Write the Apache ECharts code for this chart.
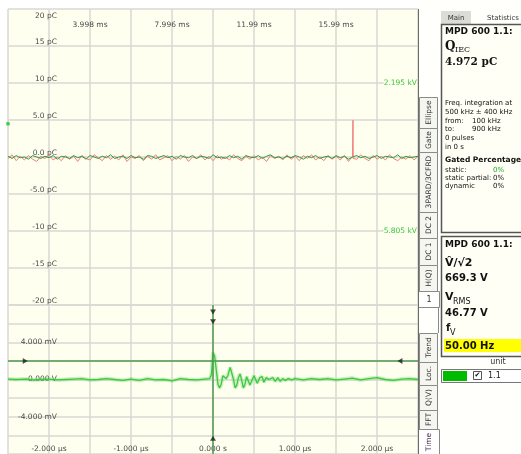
<!DOCTYPE html>
<html><head><meta charset="utf-8">
<script src="https://cdn.jsdelivr.net/npm/echarts@6/dist/echarts.min.js"></script>
<style>html,body{margin:0;padding:0;background:#fff;}#c{width:521px;height:454px;}</style>
</head><body><div id="c"></div>
<script>
// ---------- Upper scope: charge (pC) over 20 ms ----------
const qTimeMs = [0,0.2,0.4,0.6,0.8,1,1.2,1.4,1.6,1.8,
  2,2.2,2.4,2.6,2.8,3,3.2,3.4,3.6,3.8,
  4,4.2,4.4,4.6,4.8,5,5.2,5.4,5.6,5.8,
  6,6.2,6.4,6.6,6.8,7,7.2,7.4,7.6,7.8,
  8,8.2,8.4,8.6,8.8,9,9.2,9.4,9.6,9.8,
  10,10.2,10.4,10.6,10.8,11,11.2,11.4,11.6,11.8,
  12,12.2,12.4,12.6,12.8,13,13.2,13.4,13.6,13.8,
  14,14.2,14.4,14.6,14.8,15,15.2,15.4,15.6,15.8,
  16,16.2,16.4,16.6,16.8,17,17.2,17.4,17.6,17.8,
  18,18.2,18.4,18.6,18.8,19,19.2,19.4,19.6,19.8,
  19.99];
const qRed = [-0.2,0.3,-0.5,0.1,-0.4,0.2,-0.3,-0.6,0.1,-0.2,
  0.3,-0.4,0.0,-0.5,0.2,-0.3,0.1,-0.6,0.2,-0.2,
  -0.4,0.3,-0.1,-0.5,0.2,-0.3,0.1,-0.4,0.3,-0.6,
  0.0,-0.2,0.2,-0.5,0.1,-0.3,0.3,-0.4,-0.1,0.2,
  -0.5,0.1,-0.3,0.2,-0.6,0.0,-0.2,0.3,-0.4,0.1,
  -0.5,0.2,-0.3,0.0,-0.4,0.3,-0.2,-0.5,0.1,-0.3,
  0.2,-0.4,0.0,-0.6,0.2,-0.2,0.1,-0.4,0.3,-0.3,
  0.1,-0.5,0.2,-0.2,0.3,-0.4,0.0,-0.5,0.2,-0.3,
  0.1,-0.4,0.2,-0.6,0.1,-0.3,0.3,-0.2,-0.5,0.2,
  -0.3,0.1,-0.4,0.3,-0.2,-0.5,0.0,-0.3,0.2,-0.4,
  0.1];
const qGreen = [0.1,-0.2,0.2,-0.1,0.0,-0.3,0.2,0.0,-0.2,0.1,
  -0.1,0.2,-0.3,0.1,0.0,-0.2,0.2,-0.1,0.1,-0.3,
  0.2,0.0,-0.2,0.1,-0.1,0.3,-0.2,0.0,0.1,-0.2,
  0.2,-0.1,0.0,-0.3,0.2,0.1,-0.2,0.0,0.2,-0.1,
  0.1,-0.3,0.2,0.0,-0.1,0.2,-0.2,0.1,0.0,-0.2,
  0.3,-0.1,0.0,-0.2,0.2,-0.1,0.1,-0.3,0.2,0.0,
  -0.1,0.2,-0.2,0.1,0.3,-0.1,0.0,-0.2,0.1,-0.1,
  0.2,0.0,-0.3,0.1,-0.1,0.2,-0.2,0.0,0.1,-0.2,
  0.2,-0.1,0.1,-0.3,0.0,0.2,-0.1,0.1,-0.2,0.0,
  0.2,-0.2,0.1,0.0,-0.1,0.3,-0.2,0.1,-0.1,0.0,
  0.1];
const qPulseTimeMs = [16.81, 16.82, 16.83];
const qPulseValue = [-0.1, 4.972, -0.2];
const qLevelMarker = [[0, 4.5]];
const qXTickValues = [3.998, 7.996, 11.994, 15.992];
const qXTickLabels = ['3.998 ms', '7.996 ms', '11.99 ms', '15.99 ms'];
const qYTickValues = [15, 10, 5, 0, -5, -10, -15, -20];
const qYTickLabels = ['15 pC', '10 pC', '5.0 pC', '0.0 pC', '-5.0 pC', '-10 pC', '-15 pC', '-20 pC'];
const qYTopValue = [20];
const qYTopLabel = ['20 pC'];
const kvTickValues = [2.195, -5.805];
const kvTickLabels = ['2.195 kV', '-5.805 kV'];

// ---------- Lower scope: voltage (mV) over ±2.5 µs ----------
const uTimeUs = [-2.5,-2.4,-2.3,-2.2,-2.1,-2.0,-1.9,-1.8,-1.7,-1.6,-1.5,-1.4,-1.3,-1.2,-1.1,-1.0,-0.9,-0.8,-0.7,-0.6,-0.5,-0.4,-0.3,-0.2,-0.1,-0.04,
  -0.02,-0.01,0.0,0.02,0.04,0.06,0.08,0.10,0.12,0.14,0.16,0.18,0.21,0.23,0.25,0.27,0.29,0.31,0.33,0.35,0.37,0.39,0.41,0.43,0.45,0.47,0.50,0.52,0.54,0.57,0.60,0.62,0.65,0.68,0.70,0.73,0.76,0.79,0.82,0.85,0.88,0.92,0.96,
  1.0,1.1,1.2,1.3,1.4,1.5,1.6,1.7,1.8,1.9,2.0,2.1,2.2,2.3,2.4,2.5];
const uSignalMv = [0.05,0.0,0.05,-0.05,0.0,0.05,-0.05,0.0,0.05,0.1,-0.05,0.0,0.1,0.0,-0.1,0.05,-0.1,0.1,-0.05,0.0,-0.15,0.1,0.0,-0.05,0.05,0.1,
  0.5,1.6,2.9,2.5,1.0,-0.5,-0.9,-0.5,0.4,0.6,0.1,0.4,1.3,1.1,0.0,-0.9,-0.6,0.2,0.6,-0.1,-0.9,-0.5,0.3,0.5,-0.6,-0.4,0.4,0.3,-0.4,0.2,0.3,-0.3,0.2,0.0,-0.2,0.2,-0.2,0.2,-0.2,0.1,-0.1,0.1,-0.05,
  0.1,-0.05,0.1,0.0,0.1,-0.05,0.05,0.15,-0.05,0.1,0.2,0.0,-0.1,0.05,0.1,0.0];
const uTriggerTimeUs = 0;
const uTriggerLevelMv = 2;
const uCursorMarkers = [[0, 7.25, 180], [0, 6.2, 180], [0, -6.3, 0], [-2.29, 2, -90], [2.28, 2, 90]];
const uXTickValues = [-2, -1, 0, 1, 2];
const uXTickLabels = ['-2.000 µs', '-1.000 µs', '0.000 s', '1.000 µs', '2.000 µs'];
const uYTickValues = [4, 0, -4];
const uYTickLabels = ['4.000 mV', '-0.000 V', '-4.000 mV'];

// ---------- build ----------
function lookup(vals, labels) {
  return function (v) {
    let best = 0;
    for (let i = 1; i < vals.length; i++) if (Math.abs(vals[i] - v) < Math.abs(vals[best] - v)) best = i;
    return labels[best];
  };
}
const qRedPairs = qTimeMs.map((t, i) => [t, qRed[i]])
  .concat(qPulseTimeMs.map((t, i) => [t, qPulseValue[i]]))
  .sort((a, b) => a[0] - b[0]);
const qGreenPairs = qTimeMs.map((t, i) => [t, qGreen[i]]);
const uPairs = uTimeUs.map((t, i) => [t, uSignalMv[i]]);

const FONT = 'DejaVu Sans';
const labelBase = { color: '#4a4a4a', fontSize: 7.5, fontFamily: FONT };
const grid = { lineStyle: { color: '#d8d8d4', width: 1.5 } };

const G = [];
function txt(text, x, y, size, opts) {
  opts = opts || {};
  G.push({ type: 'text', x: x, y: y, rotation: opts.rot || 0, z: 120, style: {
    text: text, fill: opts.fill || '#111',
    font: (opts.bold ? 'bold ' : '') + size + 'px ' + (opts.family || FONT),
    textAlign: opts.align || 'left', textVerticalAlign: 'middle' } });
}
function rect(x, y, w, h, fill, stroke, lw) {
  G.push({ type: 'rect', z: 110, shape: { x: x, y: y, width: w, height: h },
    style: { fill: fill, stroke: stroke || null, lineWidth: lw || 1 } });
}
function line(x1, y1, x2, y2, stroke, lw) {
  G.push({ type: 'line', z: 115, shape: { x1: x1, y1: y1, x2: x2, y2: y2 },
    style: { stroke: stroke, lineWidth: lw || 1 } });
}
// right side background
rect(419, 0, 102, 454, '#fffffb');
// tab column
const upperTabs = [['Ellipse', 97, 128], ['Gate', 128, 152], ['3PARD/3CFRD', 152, 212], ['DC 2', 212, 238], ['DC 1', 238, 265], ['H(Q)', 265, 291]];
upperTabs.forEach(t => { rect(419.5, t[1] + 0.5, 18, t[2] - t[1], '#f6f6f1', '#8a8a8a', 1); txt(t[0], 429, (t[1] + t[2]) / 2, 7.5, { rot: Math.PI / 2, align: 'center', fill: '#333' }); });
rect(418.5, 291.5, 21, 16, '#ffffff', '#8a8a8a', 1);
txt('1', 429, 300, 8, { align: 'center', fill: '#333' });
line(438.5, 307, 438.5, 333, '#8a8a8a', 1);
const lowerTabs = [['Trend', 333, 362], ['Loc.', 362, 385], ['Q(V)', 385, 410], ['FFT', 410, 429]];
lowerTabs.forEach(t => { rect(419.5, t[1] + 0.5, 18, t[2] - t[1], '#f6f6f1', '#8a8a8a', 1); txt(t[0], 429, (t[1] + t[2]) / 2, 7.5, { rot: Math.PI / 2, align: 'center', fill: '#333' }); });
rect(418.5, 429.5, 21, 26, '#ffffff', '#8a8a8a', 1);
txt('Time', 429, 442, 7.5, { rot: Math.PI / 2, align: 'center', fill: '#4a2a4a' });
line(418.5, 9, 418.5, 454, '#6b6b6b', 1);
// Main / Statistics tabs
rect(441, 11, 30, 13, '#dcdcd6');
txt('Main', 456, 18, 7, { align: 'center', fill: '#333' });
txt('Statistics', 503, 18, 7, { align: 'center', fill: '#333' });
// box 1
rect(441.5, 24.5, 90, 208, '#fffff6', '#555', 1.5);
txt('MPD 600 1.1:', 445, 32, 9, { bold: true });
txt('Q', 445, 47, 12, { bold: true, family: 'DejaVu Serif' });
txt('IEC', 455, 50, 8, { family: 'DejaVu Serif' });
txt('4.972 pC', 445, 62, 10.5, { bold: true, family: 'DejaVu Serif' });
txt('Freq. integration at', 445, 103, 7);
txt('500 kHz ± 400 kHz', 445, 112, 7);
txt('from:', 445, 121, 7); txt('100 kHz', 472, 121, 7);
txt('to:', 445, 129, 7); txt('900 kHz', 472, 129, 7);
txt('0 pulses', 445, 138, 7);
txt('in 0 s', 445, 147, 7);
txt('Gated Percentage', 445, 160, 7.5, { bold: true });
txt('static:', 445, 170, 7); txt('0%', 493, 170, 7, { fill: '#22aa22' });
txt('static partial:', 445, 178, 7); txt('0%', 493, 178, 7);
txt('dynamic', 445, 186, 7); txt('0%', 493, 186, 7);
// box 2
rect(441.5, 236.5, 90, 120, '#fffff6', '#555', 1.5);
txt('MPD 600 1.1:', 445, 245, 9, { bold: true });
txt('V\u0302/\u221A2', 445, 263, 11, { bold: true });
txt('669.3 V', 445, 278, 10, { bold: true });
txt('V', 445, 297, 11, { bold: true });
txt('RMS', 453, 302, 8);
txt('46.77 V', 445, 313, 10, { bold: true });
txt('f', 446, 328, 10, { bold: true });
txt('V', 450, 333, 8);
rect(444, 339, 77, 13, '#ffff00');
txt('50.00 Hz', 445, 346, 10, { bold: true });
txt('unit', 498, 362, 8, { align: 'center', fill: '#333' });
rect(441.5, 369.5, 90, 13, '#ffffff', '#777', 1);
rect(443, 371, 24, 10, '#00bb00');
rect(473.5, 371.5, 8, 8, '#ffffff', '#555', 1);
txt('\u2714', 477.5, 375.5, 7, { align: 'center', fill: '#111' });
txt('1.1', 488, 376, 8, { fill: '#222' });

const option = {
  animation: false,
  backgroundColor: '#ffffff',
  grid: [
    { left: 8, top: 9, width: 410, height: 296, show: true, backgroundColor: '#fffff0', borderWidth: 0 },
    { left: 8, top: 305, width: 410, height: 150, show: true, backgroundColor: '#fffff0', borderWidth: 0 }
  ],
  xAxis: [
    { gridIndex: 0, type: 'value', min: 0, max: 19.99, interval: 1.999, position: 'top',
      axisLine: { show: false }, axisTick: { show: false }, splitLine: Object.assign({ show: true }, grid),
      axisLabel: Object.assign({ customValues: qXTickValues, inside: true, margin: 12, verticalAlign: 'top',
        formatter: lookup(qXTickValues, qXTickLabels) }, labelBase) },
    { gridIndex: 1, type: 'value', min: -2.5, max: 2.5, interval: 0.5, position: 'bottom',
      axisLine: { show: false }, axisTick: { show: false }, splitLine: Object.assign({ show: true }, grid),
      axisLabel: Object.assign({ customValues: uXTickValues, inside: true, margin: 1, verticalAlign: 'bottom',
        formatter: lookup(uXTickValues, uXTickLabels) }, labelBase) }
  ],
  yAxis: [
    { gridIndex: 0, type: 'value', min: -20, max: 20, interval: 5, position: 'left',
      axisLine: { show: false }, axisTick: { show: false }, splitLine: Object.assign({ show: true }, grid),
      axisLabel: Object.assign({ customValues: qYTickValues, inside: true, margin: 49, align: 'right', verticalAlign: 'bottom',
        formatter: lookup(qYTickValues, qYTickLabels) }, labelBase) },
    { gridIndex: 0, type: 'value', min: -20, max: 20, interval: 5, position: 'left',
      axisLine: { show: false }, axisTick: { show: false }, splitLine: { show: false },
      axisLabel: Object.assign({ customValues: qYTopValue, inside: true, margin: 49, align: 'right', verticalAlign: 'top', padding: [3, 0, 0, 0],
        formatter: lookup(qYTopValue, qYTopLabel) }, labelBase) },
    { gridIndex: 0, type: 'value', min: -9.805, max: 6.195, position: 'right',
      axisLine: { show: false }, axisTick: { show: false }, splitLine: { show: false },
      axisLabel: Object.assign({}, labelBase, { customValues: kvTickValues, inside: true, margin: 1, align: 'right', verticalAlign: 'middle',
        color: '#39c739', backgroundColor: '#fffff0', formatter: lookup(kvTickValues, kvTickLabels) }) },
    { gridIndex: 1, type: 'value', min: -8, max: 8, interval: 2, position: 'left',
      axisLine: { show: false }, axisTick: { show: false }, splitLine: Object.assign({ show: true }, grid),
      axisLabel: Object.assign({ customValues: uYTickValues, inside: true, margin: 49, align: 'right', verticalAlign: 'middle',
        formatter: lookup(uYTickValues, uYTickLabels) }, labelBase) }
  ],
  series: [
    { type: 'line', xAxisIndex: 0, yAxisIndex: 0, data: qRedPairs, symbol: 'none', z: 3,
      lineStyle: { color: '#f27b7b', width: 1 } },
    { type: 'line', xAxisIndex: 0, yAxisIndex: 0, data: qGreenPairs, symbol: 'none', z: 4,
      lineStyle: { color: '#2f9f2f', width: 1 } },
    { type: 'scatter', xAxisIndex: 0, yAxisIndex: 0, data: qLevelMarker, symbolSize: 4, clip: false, z: 5,
      itemStyle: { color: '#29c229' } },
    { type: 'line', xAxisIndex: 1, yAxisIndex: 3, data: uPairs, symbol: 'none', z: 3,
      lineStyle: { color: 'rgba(110,215,110,0.35)', width: 4 } },
    { type: 'line', xAxisIndex: 1, yAxisIndex: 3, data: uPairs, symbol: 'none', z: 4,
      lineStyle: { color: '#3dc83d', width: 1.3 },
      markLine: { silent: true, symbol: ['none', 'none'], label: { show: false },
        lineStyle: { color: '#4e9a4e', width: 1.5, type: 'solid' },
        data: [{ xAxis: uTriggerTimeUs }, { yAxis: uTriggerLevelMv }] } },
    { type: 'scatter', xAxisIndex: 1, yAxisIndex: 3, symbol: 'triangle', symbolSize: [6, 5], z: 6,
      itemStyle: { color: '#222' },
      data: uCursorMarkers.map(m => ({ value: [m[0], m[1]], symbolRotate: m[2] })) }
  ],
  graphic: G
};
const chart = echarts.init(document.getElementById('c'), null, { renderer: 'canvas' });
chart.setOption(option);
</script></body></html>
